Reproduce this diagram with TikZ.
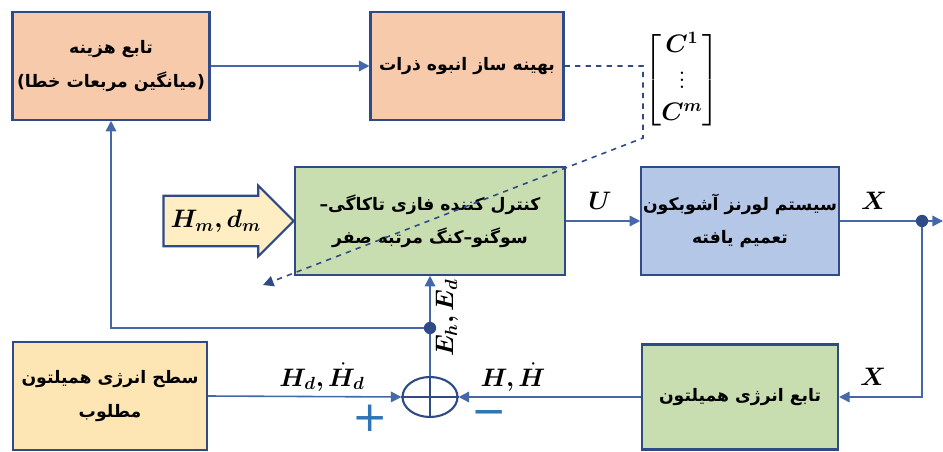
\documentclass[tikz,border=0pt]{standalone}
\usepackage{amsmath}
\usepackage{bm}
\usepackage{fontspec}
\usepackage{tikz}
\usetikzlibrary{shapes.geometric, shapes.arrows, arrows.meta, positioning, calc}
\TeXXeTstate=1
\newfontfamily\fafont[Script=Arabic]{DejaVu Sans}
\definecolor{edgeblue}{RGB}{47,75,135}
\definecolor{lineblue}{RGB}{68,104,170}
\definecolor{signblue}{RGB}{46,117,182}
\definecolor{peach}{RGB}{247,202,172}
\definecolor{leaf}{RGB}{200,222,176}
\definecolor{sky}{RGB}{180,199,231}
\definecolor{sand}{RGB}{253,230,180}
\definecolor{cream}{RGB}{255,238,196}

\begin{document}
\begin{tikzpicture}[x=0.02cm, y=-0.02cm,
        box/.style={rectangle, draw=edgeblue, line width=1.2pt, align=center,
                    font=\fafont\bfseries\fontsize{9.8}{19}\selectfont,
                    minimum height=2.15cm, inner xsep=1pt, inner ysep=4pt},
        arr/.style={-{Triangle[length=6pt, width=6pt]}, draw=lineblue, line width=0.9pt},
        dsh/.style={-{Triangle[length=6pt, width=6pt]}, draw=edgeblue, dashed, line width=0.9pt},
        lab/.style={font=\Large, inner sep=1pt},
        sgn/.style={text=signblue, font=\fafont\fontsize{24}{24}\selectfont, inner sep=0pt}
    ]
    \useasboundingbox (0,0) rectangle (943,452);

    \node[box, fill=peach, minimum width=3.94cm] (cost)   at (111, 66)  {\beginR تابع هزینه\endR\\\beginR (میانگین مربعات خطا)\endR};
    \node[box, fill=peach, minimum width=3.86cm] (pso)    at (467, 66)  {\beginR بهینه ساز انبوه ذرات\endR};
    \node[box, fill=leaf,  minimum width=5.40cm] (ctrl)   at (430, 221) {\beginR کنترل کننده فازی تاکاگی–\endR\\\beginR سوگنو–کنگ مرتبه صفر\endR};
    \node[box, fill=sky,   minimum width=3.92cm] (lorenz) at (740, 221) {\beginR سیستم لورنز آشوبکون\endR\\\beginR تعمیم یافته\endR};
    \node[box, fill=leaf,  minimum width=3.92cm, minimum height=2.1cm] (hamil) at (740, 397) {\beginR تابع انرژی همیلتون\endR};
    \node[box, fill=sand,  minimum width=3.88cm] (desired) at (110, 396) {\beginR سطح انرژی همیلتون\endR\\\beginR مطلوب\endR};

    \node[ellipse, draw=edgeblue, line width=1.2pt, minimum width=1.1cm, minimum height=0.8cm,
          inner sep=0pt] (sum) at (430, 397) {};
    \draw[edgeblue, line width=1.2pt] (sum.west) -- (sum.east) (sum.north) -- (sum.south);

    \node[single arrow, draw=edgeblue, line width=1.2pt, fill=cream, anchor=tip,
          minimum height=2.6cm, single arrow head extend=0.2cm, inner ysep=0.26cm,
          font=\Large] (ref) at (295, 221) {$\bm{H_m, d_m}$};

    \node[lab] (matC) at (682, 80) {$\begin{bmatrix} \bm{C^1} \\ \vdots \\ \bm{C^m} \end{bmatrix}$};

    \coordinate (dc1)  at (643, 66);
    \coordinate (dc2)  at (643, 138);
    \coordinate (dtip) at (263, 285);
    \coordinate (xj)   at (922, 221);
    \coordinate (xout) at (943, 221);
    \coordinate (ej)   at (430, 328);

    \draw[arr] (cost) -- (pso);
    \draw[dsh] (pso.east) -- (dc1) -- (dc2) -- (dtip);
    \draw[arr] (ctrl) -- (lorenz);
    \draw[arr] (lorenz.east) -- (xout);
    \draw[arr] (xj) |- (hamil.east);
    \draw[arr] (hamil.west) -- (sum.east);
    \draw[arr] (desired.east) -- (sum.west);
    \draw[arr] (sum.north) -- (ctrl.south);
    \draw[arr] (ej) -| (cost.south);
    \fill[edgeblue] (xj) circle (3.5pt) (ej) circle (3.5pt);

    \node[lab] (uLab)  at (600, 201) {$\bm{U}$};
    \node[lab] (xLab)  at (874, 201) {$\bm{X}$};
    \node[lab] (xLab2) at (873, 377) {$\bm{X}$};
    \node[lab] (hdLab) at (322, 377) {$\bm{H_d, \dot{H}_d}$};
    \node[lab] (hLab)  at (513, 377) {$\bm{H, \dot{H}}$};
    \node[lab, rotate=90] (eLab) at (447, 318) {$\bm{E_h, E_d}$};
    \node[sgn] (plus)  at (370, 418) {+};
    \node[sgn] (minus) at (489, 418) {−};
\end{tikzpicture}
\end{document}
